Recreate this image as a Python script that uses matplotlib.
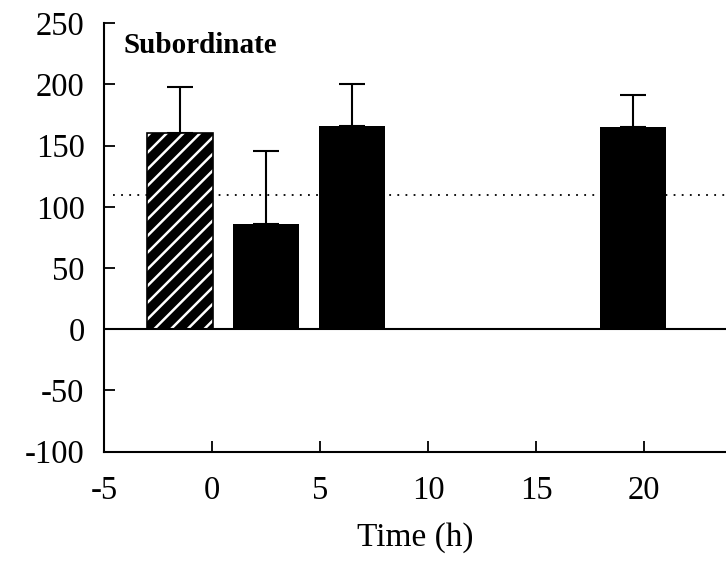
import numpy as np
import matplotlib
matplotlib.use("Agg")
import matplotlib.pyplot as plt

# values
times = [-1.5, 2.5, 6.5, 19.5]
values = [160, 86, 166, 165]
err_up = [38, 60, 34, 26]
baseline = 110
xticks = [-5, 0, 5, 10, 15, 20]
yticks = [-100, -50, 0, 50, 100, 150, 200, 250]

plt.rcParams['font.family'] = ['Liberation Serif', 'DejaVu Serif']
plt.rcParams['axes.unicode_minus'] = False
plt.rcParams['hatch.linewidth'] = 1.8

fig = plt.figure(figsize=(7.26, 5.69), dpi=100)
ax = fig.add_axes([0.1433, 0.2062, 0.8567, 0.7529])

# dotted reference line behind bars
ax.hlines(baseline, -4.6, 23.8, colors='black', linewidth=1.3,
          linestyles=(0, (1, 3.5)), zorder=1)

# first bar is hatched, the rest solid black
ax.bar(times[0], values[0], width=3.05, color='black', edgecolor='white',
       linewidth=0, hatch='//', zorder=2)
ax.bar(times[0], values[0], width=3.05, fill=False, edgecolor='black',
       linewidth=1.2, zorder=3)
ax.bar(times[1:], values[1:], width=3.05, color='black', zorder=2)

ax.errorbar(times, values, yerr=[np.zeros(len(values)), err_up], fmt='none',
            ecolor='black', elinewidth=1.5, capsize=9.5, capthick=1.5, zorder=1.5)

ax.axhline(0, color='black', linewidth=1.5, zorder=4)

ax.set_xlim(-5, 23.8)
ax.set_ylim(-100, 250)
ax.set_xticks(xticks)
ax.set_yticks(yticks)

for s in ['top', 'right']:
    ax.spines[s].set_visible(False)
for s in ['left', 'bottom']:
    ax.spines[s].set_linewidth(1.5)

ax.tick_params(axis='both', direction='in', length=8, width=1.3, labelsize=23.5)
ax.tick_params(axis='y', pad=14)
ax.tick_params(axis='x', pad=17)

ax.set_xlabel("Time (h)", fontsize=24)
ax.xaxis.set_label_coords(0.5, -0.165)

ax.text(-4.1, 226, "Subordinate", fontsize=21, fontweight='bold', va='baseline')

fig.savefig("out.png", dpi=100)
